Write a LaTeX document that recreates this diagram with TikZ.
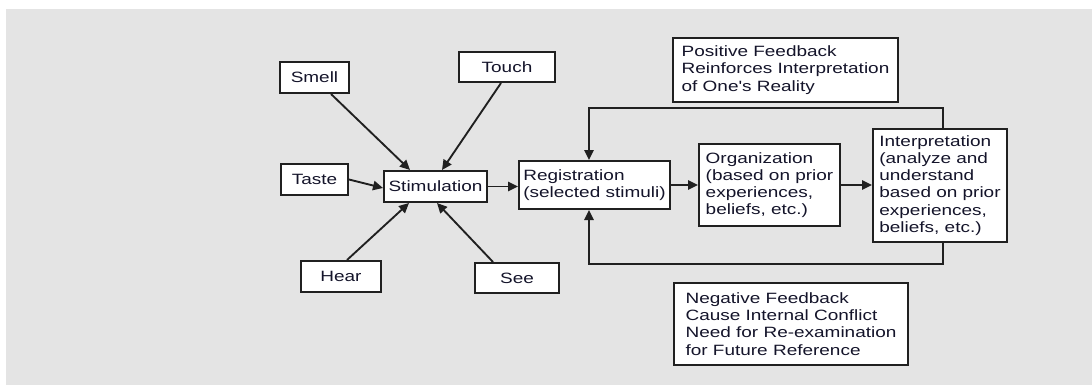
\documentclass[tikz,border=0pt]{standalone}
\usepackage{fontspec}
\newfontfamily\diagfont[FakeStretch=1.27]{Liberation Sans}
\usetikzlibrary{calc,arrows.meta}
\definecolor{bggrey}{HTML}{E4E4E4}
\definecolor{edge}{HTML}{202020}
\definecolor{ink}{HTML}{14142A}
\tikzset{
  box/.style={draw=edge, line width=1.5pt, fill=white, inner sep=0pt, align=left,
    text=ink, font=\diagfont\fontsize{11.2pt}{12.9pt}\selectfont},
  arr/.style={draw=edge, line width=1.4pt, -{Triangle[length=7.5pt,width=7pt]}},
}
\begin{document}
\begin{tikzpicture}[x=0.75pt,y=-0.75pt]
\useasboundingbox (0,0) rectangle (1092,385);
\fill[white] (0,0) rectangle (1092,385);
\fill[bggrey] (6,9.5) rectangle (1092,385);
% sensory boxes
\node[box, minimum width=69*0.75pt, minimum height=31*0.75pt] (smell) at (314.5,77.5) {Smell};
\node[box, minimum width=96*0.75pt, minimum height=30*0.75pt] (touch) at (507,67) {Touch};
\node[box, minimum width=67*0.75pt, minimum height=31*0.75pt] (taste) at (314.5,179.5) {Taste};
\node[box, minimum width=103*0.75pt, minimum height=31*0.75pt] (stim) at (435.5,186.5) {Stimulation};
\node[box, minimum width=80*0.75pt, minimum height=31*0.75pt] (hear) at (341,276.5) {Hear};
\node[box, minimum width=84*0.75pt, minimum height=30*0.75pt] (see) at (517,278) {See};
% process boxes
\node[box, minimum width=151*0.75pt, minimum height=48*0.75pt] (reg) at (594.5,185) {Registration\\(selected stimuli)};
\node[box, minimum width=141*0.75pt, minimum height=82*0.75pt] (org) at (769.5,185) {Organization\\(based on prior\\experiences,\\beliefs, etc.)};
\node[box, minimum width=134*0.75pt, minimum height=113*0.75pt] (interp) at (940,185.5) {Interpretation\\(analyze and\\understand\\based on prior\\experiences,\\beliefs, etc.)};
\node[box, minimum width=225*0.75pt, minimum height=64*0.75pt] (pos) at (785.5,70) {Positive Feedback\\Reinforces Interpretation\\of One's Reality};
\node[box, minimum width=234*0.75pt, minimum height=82*0.75pt] (neg) at (791,324) {Negative Feedback\\Cause Internal Conflict\\Need for Re-examination\\for Future Reference};
% arrows into stimulation
\draw[arr] ($(smell.south)+(16.5,0)$) -- ($(stim.north)+(-25.5,0)$);
\draw[arr] ($(touch.south)+(-6,0)$) -- ($(stim.north)+(6.5,0)$);
\draw[arr] (taste.east) -- ($(stim.west)+(0,1.5)$);
\draw[arr] ($(hear.north)+(6,0)$) -- ($(stim.south)+(-26.5,0)$);
\draw[arr] ($(see.north)+(-24,0)$) -- ($(stim.south)+(1.5,0)$);
% main chain
\draw[arr] (stim.east) -- (stim.east -| reg.west);
\draw[arr] (reg.east) -- (reg.east -| org.west);
\draw[arr] (org.east) -- (org.east -| interp.west);
% feedback loops
\draw[arr] ($(interp.north)+(3,0)$) -- ++(0,-20) -| ($(reg.north)+(-5.5,0)$);
\draw[arr] ($(interp.south)+(3,0)$) -- ++(0,21) -| ($(reg.south)+(-5.5,0)$);
\end{tikzpicture}
\end{document}
